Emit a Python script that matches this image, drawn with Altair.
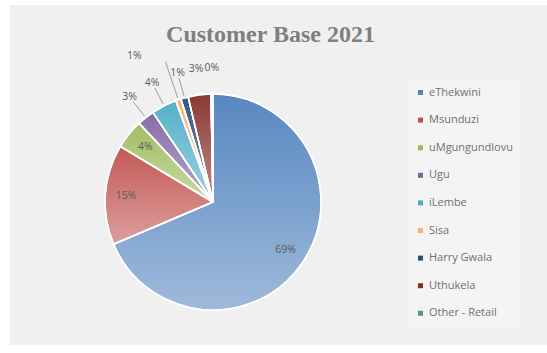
import altair as alt
import pandas as pd

regions = ["eThekwini", "Msunduzi", "uMgungundlovu", "Ugu", "iLembe",
           "Sisa", "Harry Gwala", "Uthukela", "Other - Retail"]
shares = [68.6, 15.0, 4.4, 2.6, 3.8, 0.8, 1.1, 3.4, 0.3]
colors = ["#4f81bd", "#c0504d", "#9bbb59", "#8064a2", "#4bacc6",
          "#f7b07a", "#2c4d75", "#862d2a", "#4f9a86"]
inside = ["eThekwini", "Msunduzi", "uMgungundlovu"]
outside = ["Ugu", "iLembe", "Harry Gwala", "Uthukela", "Other - Retail"]
far = ["Sisa"]
leader = ["Ugu", "iLembe", "Harry Gwala"]

df = pd.DataFrame({"region": regions, "share": shares, "order": list(range(len(regions)))})

CX, CY, R = 203, 197, 108

def in_list(lst):
    return "indexof([" + ",".join("'" + s + "'" for s in lst) + "], datum.region) >= 0"

base = alt.Chart(df).transform_joinaggregate(
    total="sum(share)"
).transform_calculate(
    pct="round(datum.share / datum.total * 100) + '%'"
).encode(
    theta=alt.Theta("share:Q", stack=True),
    order=alt.Order("order:Q"),
    x=alt.value(CX),
    y=alt.value(CY),
)

pie = base.mark_arc(outerRadius=R, stroke="white", strokeWidth=1.5).encode(
    color=alt.Color(
        "region:N",
        scale=alt.Scale(domain=regions, range=colors),
        sort=regions,
        legend=alt.Legend(
            title=None, orient="none", legendX=397, legendY=74,
            symbolType="square", symbolSize=25, symbolStrokeWidth=0,
            labelFont="Open Sans", labelFontSize=11, labelColor="#707070",
            rowPadding=15.6, padding=8, labelOffset=3,
            fillColor="#f4f4f4",
        ),
    )
)

shade = base.mark_arc(
    outerRadius=R, stroke="white", strokeWidth=1.5,
    fill=alt.Gradient(
        gradient="linear", x1=0, x2=0, y1=0, y2=1,
        stops=[alt.GradientStop(color="rgba(255,255,255,0.05)", offset=0),
               alt.GradientStop(color="rgba(255,255,255,0.45)", offset=1)],
    ),
)

def labels(lst, radius, dx=0, dy=0):
    return base.transform_calculate(
        lab="(" + in_list(lst) + ") ? datum.pct : ''"
    ).mark_text(
        radius=radius, font="Open Sans", fontSize=10.5, color="#5a5a5a", dx=dx, dy=dy
    ).encode(text="lab:N")

lines_src = alt.Chart(df).transform_joinaggregate(
    total="sum(share)"
).transform_window(
    cum="sum(share)", sort=[alt.SortField("order")], frame=[None, 0]
).transform_calculate(
    mid="(datum.cum - datum.share / 2) / datum.total * 2 * PI"
)

def leaders(lst, r1, r2):
    return lines_src.transform_filter(in_list(lst)).mark_arc(
        radius=r2, radius2=r1, filled=False, stroke="#a6a6a6", strokeWidth=0.8
    ).encode(
        theta=alt.Theta("mid:Q", scale=None),
        theta2=alt.Theta2("mid:Q"),
        x=alt.value(CX), y=alt.value(CY),
    )

chart = alt.layer(
    pie, shade,
    leaders(leader, R + 2, R + 20),
    leaders(far, R + 2, R + 40),
    labels(inside, 87),
    labels(outside, 134),
    labels(far, 158, dx=-28, dy=4),
).properties(
    width=537, height=340,
    padding={"left": 10, "top": 5, "right": 0, "bottom": 8},
    autosize=alt.AutoSizeParams(type="none"),
    title=alt.TitleParams(
        "Customer Base 2021", font="Liberation Serif", fontSize=24,
        fontWeight="bold", color="#7f7f7f", offset=-42, dx=-8,
    ),
).configure(background="white").configure_view(fill="#f0f0f0", strokeWidth=0)

chart.save("out.html", embed_options={"renderer": "svg", "actions": False})
